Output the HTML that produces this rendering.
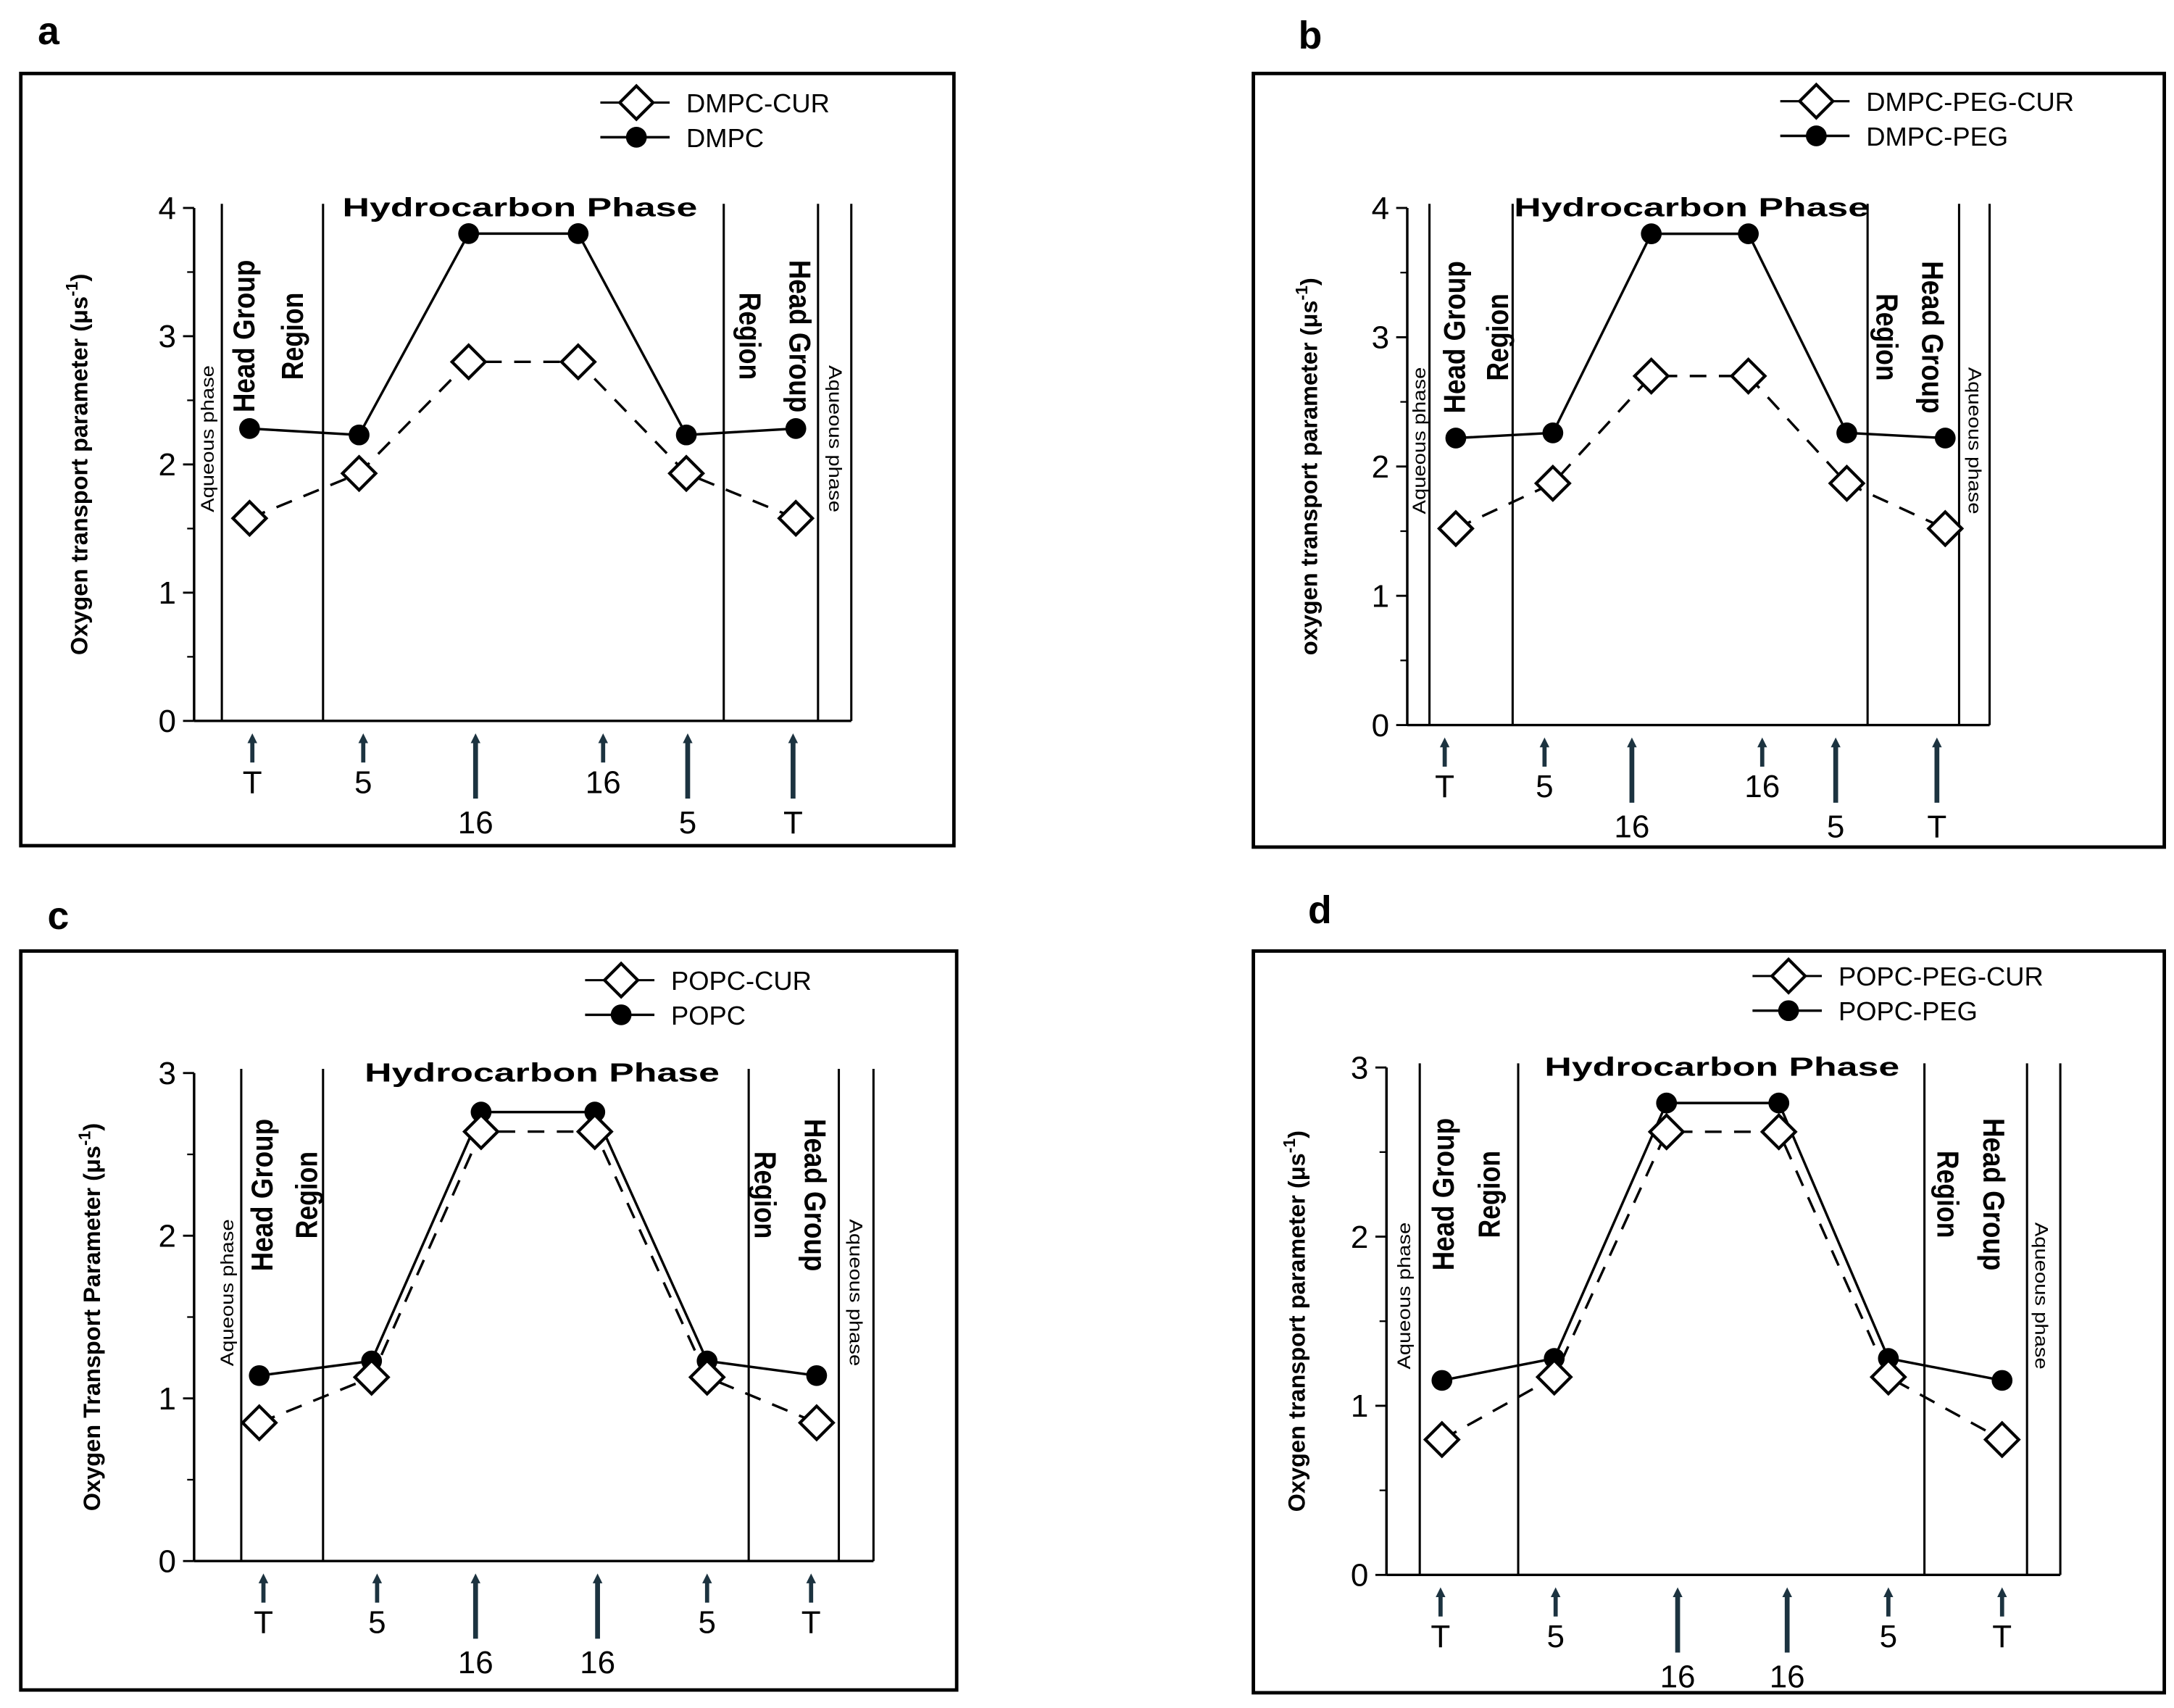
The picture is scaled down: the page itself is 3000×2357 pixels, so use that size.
<!DOCTYPE html>
<html><head><meta charset="utf-8"><style>
html,body{margin:0;padding:0;background:#fff}
svg{display:block}
text{font-family:"Liberation Sans",sans-serif}
</style></head><body>
<svg id="fig" width="3000" height="2357" viewBox="0 0 1568 1232" preserveAspectRatio="none" xmlns="http://www.w3.org/2000/svg"></svg>
<script>
const positions = ["T","5","16","16","5","T"];
const aCur = [1.58,1.93,2.8,2.8,1.93,1.58];
const aLip = [2.28,2.23,3.8,3.8,2.23,2.28];
const bCur = [1.52,1.87,2.7,2.7,1.87,1.52];
const bLip = [2.22,2.26,3.8,3.8,2.26,2.22];
const cCur = [0.85,1.13,2.64,2.64,1.13,0.85];
const cLip = [1.14,1.23,2.76,2.76,1.23,1.14];
const dCur = [0.80,1.17,2.62,2.62,1.17,0.80];
const dLip = [1.15,1.28,2.79,2.79,1.28,1.15];
const aTicks = [0,1,2,3,4];
const cTicks = [0,1,2,3];
const legendA = ["DMPC-CUR","DMPC"];
const legendB = ["DMPC-PEG-CUR","DMPC-PEG"];
const legendC = ["POPC-CUR","POPC"];
const legendD = ["POPC-PEG-CUR","POPC-PEG"];

const NS="http://www.w3.org/2000/svg";
const svg=document.getElementById('fig');
function mk(tag,attrs,parent,txt){const e=document.createElementNS(NS,tag);for(const k in attrs)e.setAttribute(k,attrs[k]);if(txt!==undefined)e.textContent=txt;(parent||svg).appendChild(e);return e;}

const panels=[
 {id:'a',letter:'a',lx:35,ly:32,box:[15,53,688,610],ax:140,y0:520,yt:150,ymax:4,ticks:aTicks,vl:[160,233,522,590,614],
  px:[180,259,338,417,495,574],cur:aCur,lip:aLip,leg:legendA,legX:433,legY:74,
  ar:[[182,0],[262,0],[343,1],[435,0],[496,1],[572,1]],hc:375,ylabX:63,ylab:"Oxygen transport parameter (μs",
  lab:{aqL:150,hgL:176,rgL:211,rgR:541,hgR:577,aqR:602}},
 {id:'b',letter:'b',lx:945,ly:35,box:[904,53,1561,611],ax:1015,y0:523,yt:150,ymax:4,ticks:aTicks,vl:[1031,1091,1347,1413,1435],
  px:[1050,1120,1191,1261,1332,1403],cur:bCur,lip:bLip,leg:legendB,legX:1284,legY:73,
  ar:[[1042,0],[1114,0],[1177,1],[1271,0],[1324,1],[1397,1]],hc:1220,ylabX:950,ylab:"oxygen transport parameter (μs",
  lab:{aqL:1024,hgL:1049,rgL:1080,rgR:1361,hgR:1394,aqR:1424}},
 {id:'c',letter:'c',lx:42,ly:670,box:[15,686,690,1219],ax:140,y0:1126,yt:774,ymax:3,ticks:cTicks,vl:[174,233,540,605,630],
  px:[187,268,347,429,510,589],cur:cCur,lip:cLip,leg:legendC,legX:422,legY:707,
  ar:[[190,0],[272,0],[343,1],[431,1],[510,0],[585,0]],hc:391,ylabX:72,ylab:"Oxygen Transport Parameter (μs",
  lab:{aqL:164,hgL:189,rgL:221,rgR:552,hgR:588,aqR:617}},
 {id:'d',letter:'d',lx:952,ly:666,box:[904,686,1561,1221],ax:1000,y0:1136,yt:770,ymax:3,ticks:cTicks,vl:[1024,1095,1388,1462,1486],
  px:[1040,1121,1202,1283,1362,1444],cur:dCur,lip:dLip,leg:legendD,legX:1264,legY:704,
  ar:[[1039,0],[1122,0],[1210,1],[1289,1],[1362,0],[1444,0]],hc:1242,ylabX:941,ylab:"Oxygen transport parameter (μs",
  lab:{aqL:1013,hgL:1041,rgL:1074,rgR:1405,hgR:1438,aqR:1472}}
];

function diamond(g,x,y,name){
  const s=12;
  const d=mk('polygon',{points:`${x},${y-s} ${x+s},${y} ${x},${y+s} ${x-s},${y}`,fill:'#fff',stroke:'#000','stroke-width':2.2},g);
  
  
}
function dot(g,x,y,name){
  const c=mk('circle',{cx:x,cy:y,r:7.5,fill:'#000'},g);
  
  
}
function rotText(g,x,y,ang,txt,size,weight,name,len){
  const t=mk('text',{x:0,y:0,transform:`translate(${x},${y}) rotate(${ang})`,'text-anchor':'middle','dominant-baseline':'central','font-size':size,'font-weight':weight,textLength:len,lengthAdjust:'spacingAndGlyphs'},g,txt);
  
  
  return t;
}

panels.forEach(p=>{
  const g=mk('g',{});
  
  
  const yS=v=>p.y0-(v/p.ymax)*(p.y0-p.yt);
  const lt=mk('text',{x:p.lx,y:p.ly,'font-size':28,'font-weight':'bold','text-anchor':'middle'},g,p.letter);
  
  
  const [bx1,by1,bx2,by2]=p.box;
  const fr=mk('rect',{x:bx1,y:by1,width:bx2-bx1,height:by2-by1,fill:'none',stroke:'#000','stroke-width':2.5},g);
  
  
  const ya=mk('line',{x1:p.ax,y1:p.y0,x2:p.ax,y2:p.yt,stroke:'#000','stroke-width':1.8},g);
  
  
  const xEnd=p.vl[p.vl.length-1];
  const xa=mk('line',{x1:p.ax,y1:p.y0,x2:xEnd,y2:p.y0,stroke:'#000','stroke-width':1.8},g);
  
  
  p.ticks.forEach(v=>{
    const y=yS(v);
    mk('line',{x1:p.ax-8,y1:y,x2:p.ax,y2:y,stroke:'#000','stroke-width':1.5},g);
    const tl=mk('text',{x:p.ax-13,y:y+8,'font-size':23,'text-anchor':'end'},g,String(v));
    
    
    if(v<p.ymax){const ym=yS(v+0.5);mk('line',{x1:p.ax-5,y1:ym,x2:p.ax,y2:ym,stroke:'#000','stroke-width':1.2},g);}
  });
  p.vl.forEach(x=>{
    const l=mk('line',{x1:x,y1:p.y0,x2:x,y2:p.yt-3,stroke:'#000','stroke-width':1.6},g);
    
    
  });
  const yl=mk('text',{transform:`translate(${p.ylabX},${(p.y0+p.yt)/2}) rotate(-90)`,'text-anchor':'middle','font-size':17,'font-weight':'bold'},g);
  
  
  mk('tspan',{},yl,p.ylab);
  mk('tspan',{dy:-7,'font-size':12},yl,'-1');
  mk('tspan',{dy:7},yl,')');
  const hc=mk('text',{x:p.hc,y:p.yt+6,'text-anchor':'middle','font-size':19,'font-weight':'bold',textLength:256,lengthAdjust:'spacingAndGlyphs'},g,'Hydrocarbon Phase');
  
  
  const midY=p.yt+(p.y0-p.yt)*0.45;
  const hgY=p.yt+(p.y0-p.yt)*0.25;
  rotText(g,p.lab.aqL,midY,-90,'Aqueous phase',13,'normal','aqueous-phase-left',106);
  rotText(g,p.lab.hgL,hgY,-90,'Head Group',22,'bold','head-group-left',110);
  rotText(g,p.lab.rgL,hgY,-90,'Region',22,'bold','region-left',63);
  rotText(g,p.lab.rgR,hgY,90,'Region',22,'bold','region-right',63);
  rotText(g,p.lab.hgR,hgY,90,'Head Group',22,'bold','head-group-right',110);
  rotText(g,p.lab.aqR,midY,90,'Aqueous phase',13,'normal','aqueous-phase-right',106);
  const curPts=p.px.map((x,i)=>x+','+yS(p.cur[i])).join(' ');
  const lipPts=p.px.map((x,i)=>x+','+yS(p.lip[i])).join(' ');
  const cl=mk('polyline',{points:curPts,fill:'none',stroke:'#000','stroke-width':1.8,'stroke-dasharray':'12 9'},g);
  
  
  const ll=mk('polyline',{points:lipPts,fill:'none',stroke:'#000','stroke-width':1.8},g);
  
  
  p.px.forEach((x,i)=>{dot(g,x,yS(p.lip[i]),'lipid-point');});
  p.px.forEach((x,i)=>{diamond(g,x,yS(p.cur[i]),'cur-point');});
  p.ar.forEach(([x,lng],i)=>{
    const top=p.y0+9, bot=p.y0+(lng?56:30);
    const a=mk('line',{x1:x,y1:bot,x2:x,y2:top+6,stroke:'#1c3340','stroke-width':lng?3.5:3},g);
    
    
    mk('polygon',{points:`${x-3.5},${top+7} ${x+3.5},${top+7} ${x},${top}`,fill:'#1c3340'},g);
    const t=mk('text',{x:x,y:p.y0+(lng?81:52),'text-anchor':'middle','font-size':23},g,positions[i]);
    
    
  });
  const lg=mk('g',{},g);
  
  
  const lx=p.legX, dx=lx+26;
  mk('line',{x1:lx,y1:p.legY,x2:lx+50,y2:p.legY,stroke:'#000','stroke-width':1.6},lg);
  diamond(lg,dx,p.legY,'legend-cur-marker');
  mk('line',{x1:lx,y1:p.legY+25,x2:lx+50,y2:p.legY+25,stroke:'#000','stroke-width':1.8},lg);
  dot(lg,dx,p.legY+25,'legend-lipid-marker');
  const t1=mk('text',{x:lx+62,y:p.legY+7,'font-size':19},lg,p.leg[0]);
  
  
  const t2=mk('text',{x:lx+62,y:p.legY+32,'font-size':19},lg,p.leg[1]);
  
  
});
</script>
</body></html>
